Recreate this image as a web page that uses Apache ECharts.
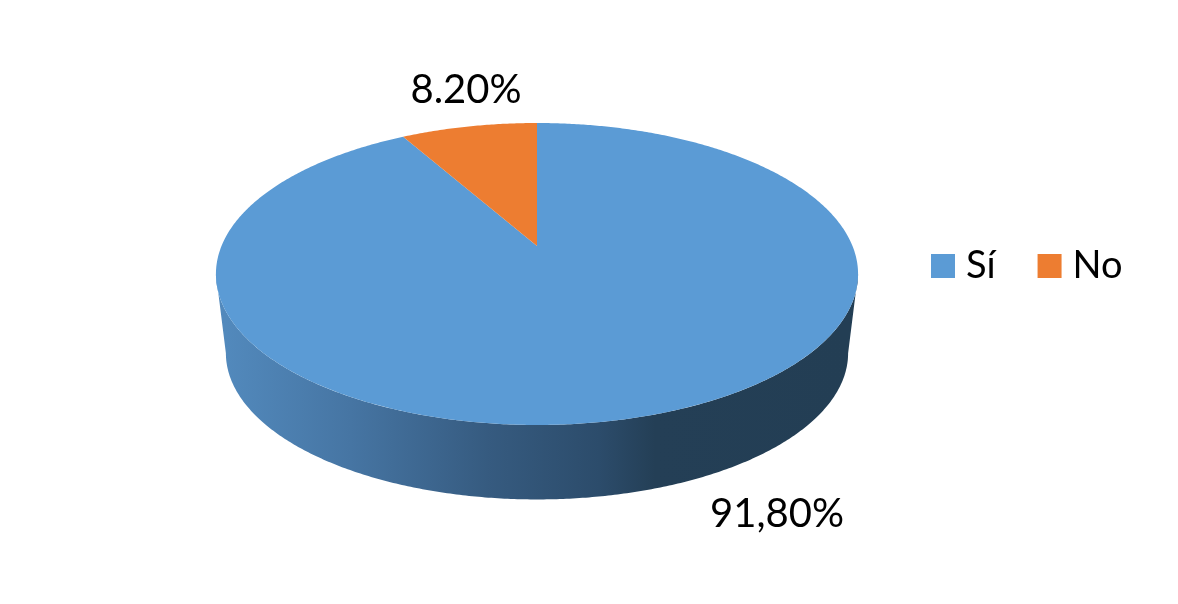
<!DOCTYPE html>
<html>
<head>
<meta charset="utf-8">
<style>html,body{margin:0;padding:0;background:#fff}#c{width:1178px;height:604px}</style>
<script src="https://cdn.jsdelivr.net/npm/echarts@6/dist/echarts.min.js"></script>
</head>
<body>
<div id="c"></div>
<script>
const categories = ['Sí', 'No'];
const shares = [91.8, 8.2];
const shareLabels = ['91,80%', '8.20%'];
const sliceColors = ['#5b9bd5', '#ed7d31'];

// Perspective view of the disc
const view = { cx: 537, apexY: 246, a: 145.8, k: 0.1854, c: 315.5, depthY: 80, depthScale: 0.969 };
const labelPos = [[777, 514], [466, 90]];

function rim(deg, bottom) {
  const t = deg * Math.PI / 180, u = Math.sin(t), v = Math.cos(t), w = 1 + view.k * v;
  const s = bottom ? view.depthScale : 1;
  return [view.cx + s * view.c * u / w, view.apexY + (bottom ? view.depthY : 0) - s * view.a * v / w];
}
function arc(from, to, bottom) {
  const pts = [], n = Math.max(2, Math.ceil(Math.abs(to - from) * 2));
  for (let i = 0; i <= n; i++) pts.push(rim(from + (to - from) * i / n, bottom));
  return pts;
}
const total = shares.reduce((a, b) => a + b, 0);
const edge = Math.acos(-view.k) * 180 / Math.PI;
const sideGradient = {
  type: 'linear', x: 226, y: 0, x2: 848, y2: 0, global: true,
  colorStops: [
    { offset: 0, color: '#5289bc' },
    { offset: 0.2, color: '#4675a3' },
    { offset: 0.42, color: '#365b80' },
    { offset: 0.6, color: '#2c4c6b' },
    { offset: 0.69, color: '#243f56' },
    { offset: 1, color: '#233e54' }
  ]
};

const series = categories.map((name, idx) => {
  const start = shares.slice(0, idx).reduce((a, b) => a + b, 0) / total * 360;
  const end = start + shares[idx] / total * 360;
  return {
    type: 'custom',
    name,
    coordinateSystem: 'none',
    data: [shares[idx]],
    itemStyle: { color: sliceColors[idx] },
    renderItem: function (params, api) {
      const children = [];
      const a0 = Math.max(start, edge), a1 = Math.min(end, 360 - edge);
      if (a1 > a0) {
        children.push({
          type: 'polygon',
          shape: { points: arc(a0, a1, false).concat(arc(a1, a0, true)) },
          style: { fill: sideGradient }
        });
      }
      children.push({
        type: 'polygon',
        shape: { points: [[view.cx, view.apexY]].concat(arc(start, end, false)) },
        style: { fill: sliceColors[idx] }
      });
      children.push({
        type: 'text',
        style: {
          text: shareLabels[idx], x: labelPos[idx][0], y: labelPos[idx][1],
          align: 'center', verticalAlign: 'middle',
          font: '40px Lato', fill: '#000'
        }
      });
      return { type: 'group', children };
    }
  };
});

const chart = echarts.init(document.getElementById('c'), null, { renderer: 'canvas' });
chart.setOption({
  animation: false,
  backgroundColor: '#ffffff',
  color: sliceColors,
  legend: {
    data: categories,
    left: 926, top: 242,
    icon: 'rect', itemWidth: 24, itemHeight: 24, itemGap: 42,
    textStyle: { fontFamily: 'Lato', fontSize: 38, color: '#000', padding: [0, 0, 0, 6] }
  },
  series
});
</script>
</body>
</html>
